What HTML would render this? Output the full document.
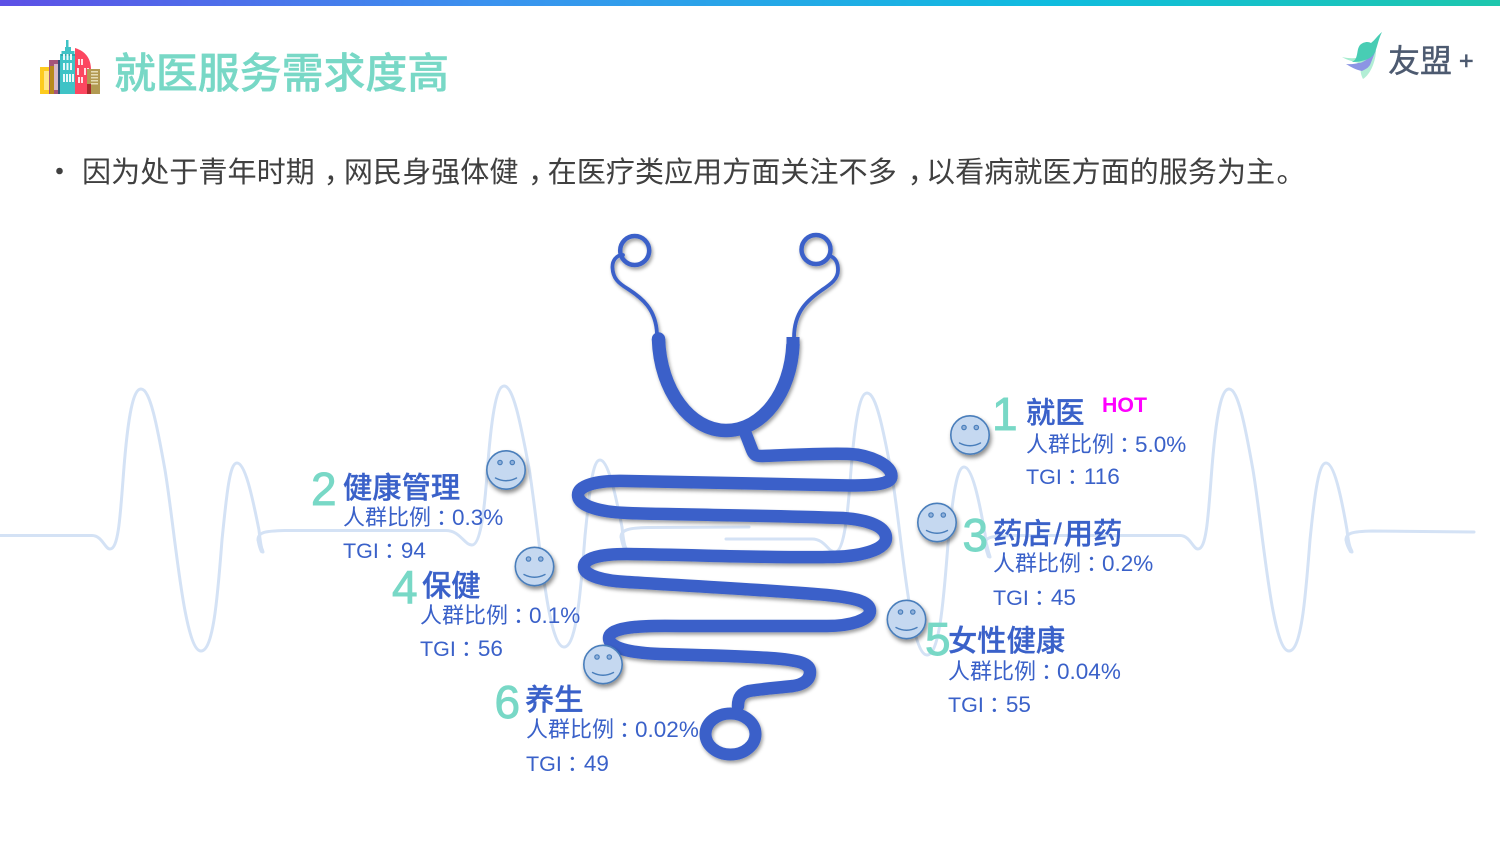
<!DOCTYPE html>
<html lang="zh">
<head>
<meta charset="utf-8">
<style>
html,body{margin:0;padding:0;background:#fff;width:1500px;height:844px;overflow:hidden}
svg{display:block}
text{font-family:"Liberation Sans","Noto Sans CJK SC",sans-serif}
.t{font-size:29.3px;fill:#3a61c9;font-weight:500;stroke:#3a61c9;stroke-width:.3}
.s{font-size:22.5px;fill:#3a61c9}
.c{font-size:22px}
.p{font-size:22px}
.g{font-size:21.5px}
.n{font-size:46px;fill:#78d8c6;stroke:#78d8c6;stroke-width:.9;font-family:"Liberation Sans",sans-serif}
.b{font-size:29.1px;fill:#404040}
.ecg{fill:none;stroke:#d4e2f5;stroke-width:3;stroke-linecap:round;stroke-linejoin:round}
.hook{fill:none;stroke:#d4e2f5;stroke-width:4.5;stroke-linecap:round}
.tube{fill:none;stroke:#3a61c9;stroke-linecap:round;stroke-linejoin:round}
.face circle.o{fill:#c5d8f0;stroke:#4a7ebb;stroke-width:1.6}
.face circle.e{fill:#8fb0da;stroke:#4a7ebb;stroke-width:1.2}
.face path{fill:none;stroke:#4a7ebb;stroke-width:1.4;stroke-linecap:round}
</style>
</head>
<body>
<svg width="1500" height="844" viewBox="0 0 1500 844" xmlns="http://www.w3.org/2000/svg">
<defs>
<linearGradient id="bar" x1="0" x2="1" y1="0" y2="0">
<stop offset="0" stop-color="#5d50e6"/><stop offset=".33" stop-color="#3a93ef"/><stop offset=".7" stop-color="#0fbcdf"/><stop offset="1" stop-color="#1ec7ad"/>
</linearGradient>
<filter id="sh" x="-10%" y="-10%" width="125%" height="125%"><feDropShadow dx="1.5" dy="2.5" stdDeviation="1.8" flood-color="#000" flood-opacity=".38"/></filter>
<filter id="sf" x="-30%" y="-30%" width="170%" height="170%"><feDropShadow dx="1.5" dy="3" stdDeviation="2" flood-color="#000" flood-opacity=".45"/></filter>
<g id="face" class="face">
<circle class="o" r="19.2"/><circle class="e" cx="-6" cy="-7.5" r="2.2"/><circle class="e" cx="6.3" cy="-7.5" r="2.2"/>
<path d="M-10.5 8 Q0 13.5 10.5 8"/>
</g>
</defs>

<rect width="1500" height="6" fill="url(#bar)"/>

<!-- building icon -->
<g>
<rect x="40" y="67" width="13" height="27" fill="#fdcb1f"/>
<g fill="#fff3b5"><rect x="44" y="71" width="5" height="19" opacity=".7"/></g>
<rect x="49" y="60" width="13" height="34" fill="#a4557a"/>
<rect x="50" y="66" width="4" height="28" fill="#b78a1d"/>
<rect x="54" y="64" width="4" height="26" fill="#d8b9c7"/>
<rect x="58" y="60" width="3" height="34" fill="#2f4f76"/>
<path d="M66 40h2.500v7h2.500v4h3.500v3h1.500v40H60V54h1.500v-3H65v-4h1z" fill="#3fc3c6"/>
<rect x="61" y="54" width="15" height="2" fill="#2fa6ac"/>
<g fill="#eaf9fa"><rect x="63" y="54" width="2" height="6"/><rect x="66.500" y="54" width="2" height="6"/><rect x="70" y="54" width="2" height="6"/><rect x="63" y="63" width="2" height="7"/><rect x="66.500" y="63" width="2" height="7"/><rect x="70" y="63" width="2" height="7"/><rect x="63" y="74" width="2" height="8"/><rect x="66" y="74" width="2" height="8"/><rect x="69" y="74" width="2" height="8"/><rect x="72" y="74" width="2" height="8"/></g>
<path d="M75 48c10 3 16 10 16 22v24H75z" fill="#fc4760"/>
<g fill="#ffe1e5"><rect x="78" y="59" width="2" height="6"/><rect x="81" y="59" width="2" height="6"/><rect x="77" y="68" width="2" height="7"/><rect x="84" y="68" width="2" height="7"/><rect x="87" y="68" width="2" height="7"/><rect x="78" y="77" width="2" height="6"/><rect x="81" y="77" width="2" height="6"/><rect x="87" y="77" width="2" height="6"/></g>
<rect x="87" y="69" width="13" height="25" fill="#b29a52"/>
<rect x="87" y="84" width="4" height="10" fill="#a52b2b"/>
<g fill="#e6dcb4"><rect x="91" y="71" width="7" height="1.500"/><rect x="91" y="74" width="7" height="1.500"/><rect x="91" y="77" width="7" height="1.500"/><rect x="91" y="80" width="7" height="1.500"/><rect x="91" y="83" width="7" height="1.500"/></g>
</g>

<text x="114" y="88" font-size="41.900" fill="#78d8c6" font-weight="500" stroke="#78d8c6" stroke-width=".4">就医服务需求度高</text>

<!-- logo -->
<g>
<path d="M1376 50c0 10-5 24-13 29-2-4-3-8-2-12 5-3 11-9 15-17z" fill="#b2eed5"/>
<path d="M1346 64c10 1 21-2 30-14l-6 15c-2 3-4 4-8 6-6-1-11-4-16-7z" fill="#8c95e4"/>
<path d="M1342 57c8 2 20 2 30-4-3 5-6 8-12 10-6-1-13-3-18-6z" fill="#a5ecce"/>
<path d="M1382 32c-4 3-7 8-11 11-3-2-8-1-11 2-3 4-2 8-4 13-1 2-2 3-4 4 8 0 18-2 22-8 3-5 4-14 8-22z" fill="#48cdb4"/>
</g>
<text x="1388" y="72" font-size="32" fill="#4d5a70" stroke="#4d5a70" stroke-width=".4">友盟</text>
<text x="1459" y="69" font-size="25" fill="#4d5a70" stroke="#4d5a70" stroke-width=".6" style="font-family:'Liberation Sans',sans-serif">+</text>

<!-- bullet -->
<circle cx="59.500" cy="171" r="3.300" fill="#404040"/>
<text class="b" x="82" y="182">因为处于青年时期</text>
<text class="b" x="323.600" y="182">，</text>
<text class="b" x="343.900" y="182">网民身强体健</text>
<text class="b" x="528" y="182">，</text>
<text class="b" x="547.600" y="182">在医疗类应用方面关注不多</text>
<text class="b" x="907.600" y="182">，</text>
<text class="b" x="926" y="182">以看病就医方面的服务为主</text>
<text class="b" x="1276.500" y="182">。</text>

<!-- ECG -->
<g class="ecg">
<path d="M0 535.500H92C102 535.500 105 549 110 549C118 549 120 520 123 480C127 425 132 389 141 389C150 389 157 425 165 470C175 530 184 651 201 651C214 651 218 590 222 540C227 490 230 463 237 463C245 463 252 495 259 530C260 540 261 548 263 552"/>
<path d="M258 540C258 532 265 531 285 530.500H445C460 530 464 545 472 545C480 545 484 515 487 475C491 420 496 386 504 386C513 386 520 420 529 468C539 528 547 647 564 647C577 647 581 586 585 536C590 486 593 460 600 460C608 460 615 492 622 527C623 537 624 545 626 549"/>
<path d="M621 537C621 530 628 528 648 527.500L749 527"/>
<path d="M726 539H812C825 539 828 552 835 552C843 552 847 523 850 483C854 428 859 393 867 393C876 393 883 428 892 476C902 536 910 655 927 655C940 655 944 594 948 544C953 494 957 467 964 467C972 467 979 499 985 534C986 544 988 552 990 557"/>
<path d="M985 544C985 537 992 536 1012 535.500H1180C1190 535.500 1193 549 1198 549C1206 549 1208 520 1211 480C1215 425 1220 389 1229 389C1238 389 1245 425 1253 470C1263 530 1272 651 1289 651C1302 651 1306 590 1310 540C1315 490 1319 463 1326 463C1334 463 1341 495 1347 530C1348 540 1350 548 1352 552"/>
<path d="M1346 540C1346 533 1352 531.500 1372 531L1474 532"/>
</g>
<g class="hook">
<path d="M259 541C260 546 261 549 262 551"/>
<path d="M622 538C623 543 624 546 625 548"/>
<path d="M986 545C987 550 988 553 989 556"/>
<path d="M1347 541C1348 546 1350 549 1351 551"/>
</g>

<!-- stethoscope -->
<g filter="url(#sh)">
<circle cx="634.700" cy="250.500" r="14.500" fill="none" stroke="#3a61c9" stroke-width="4.500"/>
<circle cx="816" cy="249.500" r="14.500" fill="none" stroke="#3a61c9" stroke-width="4.500"/>
<path class="tube" stroke-width="3.800" d="M623 255C616 255 612 261 612.500 268C613 278 618 283 628 289C642 298 656 309 657 334"/>
<path class="tube" stroke-width="3.800" d="M830 256C836 258 838 263 838 270C838 279 831 284 822 290C808 300 794 311 794 338"/>
<path d="M658.500 339C660 390 690 430.500 726 430.500C763 430.500 791 392 793 344" fill="none" stroke="#3a61c9" stroke-width="13.500"/>
<circle cx="658.500" cy="339" r="6.700" fill="#3a61c9"/>
<rect x="786.500" y="337" width="13" height="8" fill="#3a61c9"/>
<path class="tube" stroke-width="12.500" d="M745 432L752 450C754 455 756 456 762 456C790 455 825 453 850 454C870 455 891.500 465 891.500 476C891.500 484 875 485.500 850 485.500C800 485 700 482 627 481C595 480 578 486 578 495C578 506 600 512 627 513C680 515 760 515 843 518C870 520 886 527 886 538C886 550 860 557 827 557C770 558 700 555 627 554C600 554 584 558 584 567C584 576 605 581 627 582C690 586 770 590 827 595C857 598 870 602 870 611C870 620 850 626 827 626H680C635 625 609 628 609 638C609 648 630 653 660 654C700 655 740 656 770 658C798 660 810 663 810 672C810 682 800 685 793 686C775 688 760 689 749 691C741 693 738 698 738 706"/>
<ellipse cx="730.500" cy="734" rx="25" ry="20.500" fill="none" stroke="#3a61c9" stroke-width="12"/>
</g>

<!-- faces -->
<g filter="url(#sf)"><use href="#face" x="970" y="435"/></g>
<g filter="url(#sf)"><use href="#face" x="937" y="522.500"/></g>
<g filter="url(#sf)"><use href="#face" x="906.500" y="619.500"/></g>
<g filter="url(#sf)"><use href="#face" x="506" y="470"/></g>
<g filter="url(#sf)"><use href="#face" x="534.500" y="566.500"/></g>
<g filter="url(#sf)"><use href="#face" x="603" y="664.500"/></g>

<!-- labels -->
<text class="n" x="992" y="430">1</text>
<text class="t" x="1026" y="423">就医</text>
<text x="1102" y="412" font-size="21.300" font-weight="700" fill="#ff00ff">HOT</text>
<text class="s" x="1026" y="452"><tspan class="c">人群比例</tspan><tspan class="p" dx="5">：</tspan><tspan dx="-6">5.0%</tspan></text>
<text class="s" x="1026" y="484"><tspan class="g">TGI</tspan><tspan class="p" dx="5">：</tspan><tspan dx="-5">116</tspan></text>

<text class="n" x="311" y="505">2</text>
<text class="t" x="343" y="498">健康管理</text>
<text class="s" x="343" y="525"><tspan class="c">人群比例</tspan><tspan class="p" dx="5">：</tspan><tspan dx="-6">0.3%</tspan></text>
<text class="s" x="343" y="558"><tspan class="g">TGI</tspan><tspan class="p" dx="5">：</tspan><tspan dx="-5">94</tspan></text>

<text class="n" x="962.500" y="551">3</text>
<text class="t" x="993" y="544">药店<tspan dx="2">/</tspan><tspan dx="2">用药</tspan></text>
<text class="s" x="993" y="571"><tspan class="c">人群比例</tspan><tspan class="p" dx="5">：</tspan><tspan dx="-6">0.2%</tspan></text>
<text class="s" x="993" y="605"><tspan class="g">TGI</tspan><tspan class="p" dx="5">：</tspan><tspan dx="-5">45</tspan></text>

<text class="n" x="392" y="603">4</text>
<text class="t" x="422" y="596">保健</text>
<text class="s" x="420" y="623"><tspan class="c">人群比例</tspan><tspan class="p" dx="5">：</tspan><tspan dx="-6">0.1%</tspan></text>
<text class="s" x="420" y="656"><tspan class="g">TGI</tspan><tspan class="p" dx="5">：</tspan><tspan dx="-5">56</tspan></text>

<text class="n" x="925" y="655">5</text>
<text class="t" x="948" y="651">女性健康</text>
<text class="s" x="948" y="679"><tspan class="c">人群比例</tspan><tspan class="p" dx="5">：</tspan><tspan dx="-6">0.04%</tspan></text>
<text class="s" x="948" y="712"><tspan class="g">TGI</tspan><tspan class="p" dx="5">：</tspan><tspan dx="-5">55</tspan></text>

<text class="n" x="494.500" y="718">6</text>
<text class="t" x="525" y="710">养生</text>
<text class="s" x="526" y="737"><tspan class="c">人群比例</tspan><tspan class="p" dx="5">：</tspan><tspan dx="-6">0.02%</tspan></text>
<text class="s" x="526" y="771"><tspan class="g">TGI</tspan><tspan class="p" dx="5">：</tspan><tspan dx="-5">49</tspan></text>
</svg>
</body>
</html>
